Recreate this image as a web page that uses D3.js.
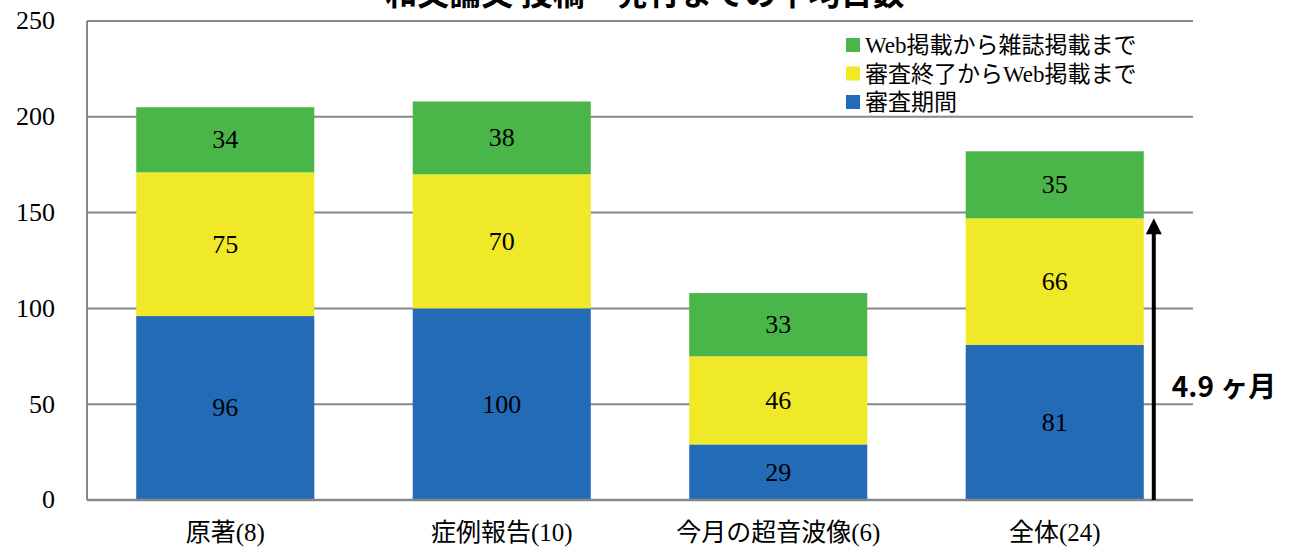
<!DOCTYPE html>
<html><head><meta charset="utf-8">
<script src="https://cdn.jsdelivr.net/npm/d3@7"></script>
<style>body{margin:0;background:#fff;} svg{display:block;}</style>
</head><body>
<svg id="c" width="1293" height="548"></svg>
<script>
const categories = ["原著(8)", "症例報告(10)", "今月の超音波像(6)", "全体(24)"];
const seriesNames = ["審査期間", "審査終了からWeb掲載まで", "Web掲載から雑誌掲載まで"];
const review = [96, 100, 29, 81];
const toWeb = [75, 70, 46, 66];
const toPrint = [34, 38, 33, 35];
const yTicks = [0, 50, 100, 150, 200, 250];
const colors = ["#236bb6", "#f0e927", "#4ab649"];
const title = "和文論文 投稿～発行までの平均日数";
const annotation = "4.9 ヶ月";

const serif = "'Liberation Serif', 'Noto Sans CJK JP', serif";
const svg = d3.select("#c");
const m = {l: 87, r: 100, t: 21, b: 48};
const W = 1293, H = 548;
const x = d3.scaleBand().domain(categories).range([m.l, W - m.r]).paddingInner(0.356).paddingOuter(0.178);
const y = d3.scaleLinear().domain([0, 250]).range([H - m.b, m.t]);

// gridlines
svg.append("g").selectAll("line").data(yTicks).join("line")
  .attr("x1", m.l).attr("x2", W - m.r)
  .attr("y1", d => y(d)).attr("y2", d => y(d))
  .attr("stroke", "#878787").attr("stroke-width", 2);
// left axis line
svg.append("line").attr("x1", m.l).attr("x2", m.l).attr("y1", y(250)).attr("y2", y(0))
  .attr("stroke", "#878787").attr("stroke-width", 2);

// y tick labels
svg.append("g").selectAll("text").data(yTicks).join("text")
  .attr("x", 55).attr("y", d => y(d)).attr("dy", "0.32em")
  .attr("text-anchor", "end").attr("font-family", serif).attr("font-size", 26)
  .attr("fill", "#000").text(d => d);

// stacked data
const rows = categories.map((c, i) => ({cat: c, s0: review[i], s1: toWeb[i], s2: toPrint[i]}));
const stack = d3.stack().keys(["s0", "s1", "s2"])(rows);

const g = svg.append("g");
stack.forEach((layer, li) => {
  g.append("g").selectAll("rect").data(layer).join("rect")
    .attr("x", d => x(d.data.cat)).attr("width", x.bandwidth())
    .attr("y", d => y(d[1])).attr("height", d => y(d[0]) - y(d[1]))
    .attr("fill", colors[li]);
  g.append("g").selectAll("text").data(layer).join("text")
    .attr("x", d => x(d.data.cat) + x.bandwidth() / 2)
    .attr("y", d => (y(d[0]) + y(d[1])) / 2).attr("dy", "0.32em")
    .attr("text-anchor", "middle").attr("font-family", serif).attr("font-size", 26)
    .attr("fill", "#000").text(d => d[1] - d[0]);
});

// bottom axis line
svg.append("line").attr("x1", m.l).attr("x2", W - m.r).attr("y1", y(0)).attr("y2", y(0))
  .attr("stroke", "#878787").attr("stroke-width", 2.5);

// category labels
svg.append("g").selectAll("text").data(categories).join("text")
  .attr("x", d => x(d) + x.bandwidth() / 2).attr("y", 532).attr("dy", "0.35em")
  .attr("text-anchor", "middle").attr("font-family", serif).attr("font-size", 25)
  .attr("fill", "#000").text(d => d);

// legend
const legendOrder = [2, 1, 0];
const lg = svg.append("g");
legendOrder.forEach((si, k) => {
  const ly = 45 + k * 28.5;
  lg.append("rect").attr("x", 846).attr("y", ly - 7).attr("width", 14).attr("height", 14).attr("fill", colors[si]);
  lg.append("text").attr("x", 865).attr("y", ly).attr("dy", "0.35em")
    .attr("font-family", serif).attr("font-size", 23).attr("fill", "#000").text(seriesNames[si]);
});

// arrow annotation
const last = categories.length - 1;
const arrowX = x(categories[last]) + x.bandwidth() + 10;
const tipY = y(review[last] + toWeb[last]);
svg.append("line").attr("x1", arrowX).attr("x2", arrowX).attr("y1", y(0)).attr("y2", tipY + 14)
  .attr("stroke", "#000").attr("stroke-width", 4);
svg.append("path").attr("d", `M${arrowX},${tipY} L${arrowX - 8},${tipY + 16} L${arrowX + 8},${tipY + 16} Z`).attr("fill", "#000");
svg.append("text").attr("x", arrowX + 18).attr("y", 387).attr("dy", "0.35em")
  .attr("font-family", "'Noto Sans CJK JP', sans-serif").attr("font-weight", "bold").attr("font-size", 28)
  .attr("fill", "#000").text(annotation);

// title (cut off at the top edge, as in the reference)
svg.append("text").attr("x", 645).attr("y", 5)
  .attr("text-anchor", "middle").attr("font-family", "'Noto Sans CJK JP', sans-serif")
  .attr("font-weight", "bold").attr("font-size", 32).attr("fill", "#000").text(title);
</script>
</body></html>
